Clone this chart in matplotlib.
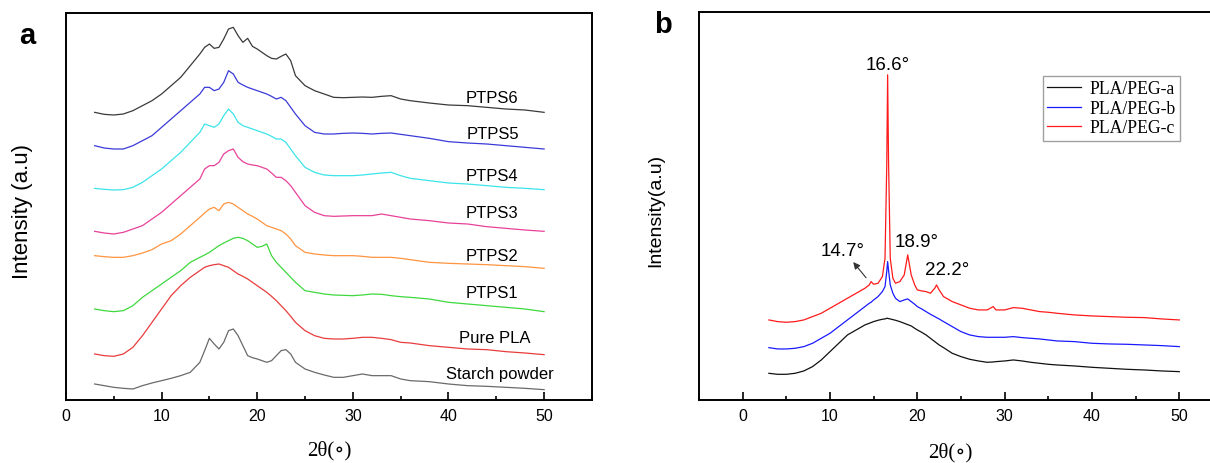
import matplotlib
matplotlib.use("Agg")
import matplotlib.pyplot as plt
from matplotlib.ticker import MultipleLocator

plt.rcParams['font.family'] = ['Liberation Sans', 'DejaVu Sans']

# ---- panel a: XRD of starch / PLA / PTPS blends ----
theta_a = [3, 4, 5, 6, 7, 8, 9, 10, 11, 12, 13, 14,
           14.5, 15, 15.5, 16, 16.5, 17, 17.5, 18, 18.5, 19, 19.5, 20, 20.5, 21, 21.5, 22, 22.5, 23, 23.5, 24,
           25, 26, 27, 28, 29, 30, 31, 32, 33, 34, 35, 36,
           38, 40, 42, 44, 46, 48, 50]

starch = [48, 43, 38, 35, 33, 43, 51, 58, 65, 73, 83, 113,
          148, 185, 168, 153, 173, 208, 213, 193, 163, 133, 127, 123, 118, 113, 118, 133, 148, 151, 138, 113,
          93, 83, 75, 68, 68, 73, 78, 73, 73, 73, 63, 58,
          55, 48, 43, 41, 38, 35, 31]
pure_pla = [138, 133, 131, 138, 158, 193, 233, 273, 313, 343, 368, 388,
            398, 403, 406, 408, 403, 398, 388, 378, 371, 363, 353, 343, 333, 323, 311, 298, 283, 268, 251, 233,
            208, 193, 185, 183, 183, 185, 188, 188, 185, 181, 173, 171,
            163, 158, 153, 151, 145, 141, 136]
ptps1 = [273, 268, 265, 268, 283, 308, 328, 348, 368, 388, 413, 428,
         435, 443, 453, 463, 471, 478, 485, 488, 485, 478, 468, 458, 461, 468, 433, 413, 398, 383, 368, 353,
         328, 323, 318, 315, 314, 313, 315, 318, 317, 313, 310, 308,
         303, 293, 288, 283, 278, 273, 265]
ptps2 = [433, 430, 428, 428, 433, 441, 451, 468, 478, 498, 523, 548,
         561, 573, 578, 568, 588, 593, 588, 578, 568, 558, 551, 543, 533, 523, 518, 513, 508, 498, 483, 463,
         443, 438, 435, 433, 433, 433, 431, 428, 428, 428, 425, 421,
         413, 410, 408, 406, 403, 400, 395]
ptps3 = [506, 501, 498, 503, 513, 523, 543, 563, 588, 613, 638, 663,
         693, 703, 703, 713, 738, 748, 753, 728, 715, 708, 705, 703, 698, 693, 681, 668, 668, 658, 643, 623,
         583, 563, 553, 551, 552, 553, 553, 553, 558, 553, 548, 543,
         538, 531, 528, 520, 515, 510, 506]
ptps4 = [635, 632, 630, 631, 638, 653, 673, 693, 718, 743, 773, 803,
         828, 823, 818, 828, 853, 873, 858, 833, 823, 818, 813, 808, 803, 798, 791, 783, 783, 773, 753, 733,
         698, 683, 675, 673, 673, 673, 675, 678, 681, 683, 673, 665,
         658, 651, 648, 643, 638, 635, 631]
ptps5 = [763, 756, 753, 753, 763, 778, 793, 818, 843, 868, 893, 918,
         938, 938, 928, 933, 953, 988, 978, 953, 945, 938, 933, 928, 923, 918, 911, 903, 908, 898, 878, 858,
         823, 803, 798, 798, 800, 801, 800, 798, 800, 801, 797, 793,
         785, 775, 771, 768, 763, 758, 753]
ptps6 = [863, 857, 855, 858, 868, 883, 898, 918, 943, 968, 1003, 1038,
         1058, 1068, 1055, 1058, 1083, 1113, 1118, 1093, 1073, 1085, 1061, 1053, 1043, 1033, 1025, 1023, 1031, 1038, 1018, 973,
         943, 928, 918, 908, 907, 908, 909, 908, 911, 913, 903, 898,
         891, 885, 883, 878, 873, 870, 863]

names_a = ["Starch powder", "Pure PLA", "PTPS1", "PTPS2", "PTPS3", "PTPS4", "PTPS5", "PTPS6"]
series_a = [starch, pure_pla, ptps1, ptps2, ptps3, ptps4, ptps5, ptps6]
colors_a = ["#6a6a6a", "#e83c3c", "#3ed83e", "#ff9440", "#e8419a", "#3ce4ea", "#3a3ad8", "#3a3a3a"]
label_pos_a = [(39.7, 78), (41.1, 186), (41.8, 321), (41.8, 433),
               (41.8, 563), (41.8, 675), (41.9, 800), (41.8, 908)]

# ---- panel b: PLA/PEG samples ----
theta_b = [3, 4, 5, 6, 7, 8, 9, 10, 11, 12, 13, 14,
           14.5, 14.7, 15, 15.5, 16, 16.3, 16.5, 16.6, 16.7, 16.9, 17.2, 17.5, 18, 18.5, 18.9, 19.3, 19.7,
           20, 20.5, 21, 21.5, 22, 22.2, 22.5, 23,
           24, 25, 26, 27, 28, 28.7, 29, 30, 31, 32, 33, 34, 35, 36,
           38, 40, 42, 44, 46, 48, 50]
peg_a = [80, 77, 77, 80, 87, 100, 120, 145, 170, 195, 210, 225,
         230, 232, 235, 239, 242, 243, 245, 245, 244, 243, 241, 239, 235, 230, 226, 222, 215,
         210, 203, 195, 185, 175, 171, 165, 157,
         140, 130, 122, 117, 113, 114, 115, 117, 120, 117, 113, 110, 107, 105,
         102, 98, 95, 92, 90, 87, 85]
peg_b = [157, 153, 153, 155, 160, 170, 185, 200, 220, 240, 260, 280,
         290, 293, 300, 310, 325, 340, 385, 415, 390, 345, 320, 305, 295, 300, 303, 295, 287,
         280, 273, 265, 257, 250, 247, 243, 235,
         220, 205, 195, 190, 188, 188, 188, 188, 190, 187, 185, 183, 180, 177,
         175, 170, 168, 167, 165, 163, 160]
peg_c = [240, 235, 233, 235, 240, 250, 260, 275, 290, 305, 320, 335,
         345, 355, 347, 350, 370, 425, 705, 975, 725, 425, 365, 350, 355, 375, 435, 375, 345,
         330, 327, 325, 320, 335, 345, 330, 310,
         295, 285, 275, 270, 270, 280, 270, 270, 277, 275, 270, 265, 263, 260,
         255, 252, 250, 248, 247, 243, 240]

names_b = ["PLA/PEG-a", "PLA/PEG-b", "PLA/PEG-c"]
series_b = [peg_a, peg_b, peg_c]
colors_b = ["#111111", "#1a1aff", "#ff1a1a"]

peak_labels = ["16.6°", "14.7°", "18.9°", "22.2°"]
peak_text_pos = [(16.65, 1005), (11.4, 448), (19.9, 475), (23.4, 390)]

serif = ["Liberation Serif", "DejaVu Serif"]

fig = plt.figure(figsize=(12.1, 4.64), dpi=100)

# panel a
ax1 = fig.add_axes([0.0545, 0.1358, 0.4347, 0.834])
for name, ys, c, (tx, ty) in zip(names_a, series_a, colors_a, label_pos_a):
    ax1.plot(theta_a, ys, color=c, lw=0.9)
    ax1.text(tx, ty, name, fontsize=12, ha="left", va="center")
ax1.set_xlim(0, 55)
ax1.set_ylim(0, 1161)
ax1.set_yticks([])
ax1.set_xticks([0, 10, 20, 30, 40, 50])
ax1.xaxis.set_minor_locator(MultipleLocator(5))
ax1.tick_params(axis="x", which="major", direction="in", length=5.5, width=1.2, labelsize=11.5, pad=6)
ax1.tick_params(axis="x", which="minor", direction="in", length=3, width=1.2)
for s in ax1.spines.values():
    s.set_linewidth(1.4)
ax1.set_xlabel("2θ(∘)", fontsize=15, family=serif)
ax1.xaxis.set_label_coords(0.5, -0.103)
ax1.set_ylabel("Intensity (a.u)", fontsize=16)
ax1.yaxis.set_label_coords(-0.062, 0.49)
fig.text(0.0223, 0.922, "a", fontsize=21, fontweight="bold", ha="center", va="center")

# panel b (frame runs past the right edge of the picture)
ax2 = fig.add_axes([0.5777, 0.1358, 0.433, 0.836])
for name, ys, c in zip(names_b, series_b, colors_b):
    ax2.plot(theta_b, ys, color=c, lw=0.9, label=name)
ax2.set_xlim(-5, 55)
ax2.set_ylim(0, 1163)
ax2.set_yticks([])
ax2.set_xticks([0, 10, 20, 30, 40, 50])
ax2.xaxis.set_minor_locator(MultipleLocator(5))
ax2.tick_params(axis="x", which="major", direction="in", length=6, width=1.2, labelsize=11.5, pad=6)
ax2.tick_params(axis="x", which="minor", direction="in", length=3, width=1.2)
for s in ax2.spines.values():
    s.set_linewidth(1.4)
ax2.set_xlabel("2θ(∘)", fontsize=15, family=serif)
ax2.xaxis.set_label_coords(0.48, -0.107)
ax2.set_ylabel("Intensity(a.u)", fontsize=14)
ax2.yaxis.set_label_coords(-0.067, 0.49)

for lab, (tx, ty) in zip(peak_labels, peak_text_pos):
    ax2.text(tx, ty, lab, fontsize=13.5, ha="center", va="center")
ax2.annotate("", xy=(12.46, 420), xytext=(14.33, 360),
             arrowprops=dict(arrowstyle="-|>", color="#333333", lw=0.8, mutation_scale=10))

leg = ax2.legend(loc="upper right", bbox_to_anchor=(0.918, 0.836), frameon=True, fancybox=False,
                 prop={"family": "Liberation Serif", "size": 12.7}, handlelength=1.9,
                 labelspacing=0.15, borderpad=0.25, handletextpad=0.5, borderaxespad=0)
leg.get_frame().set_edgecolor("#888888")
leg.get_frame().set_linewidth(1.0)

fig.text(0.548, 0.946, "b", fontsize=21, fontweight="bold", ha="center", va="center")

fig.savefig("out.png", dpi=100)
